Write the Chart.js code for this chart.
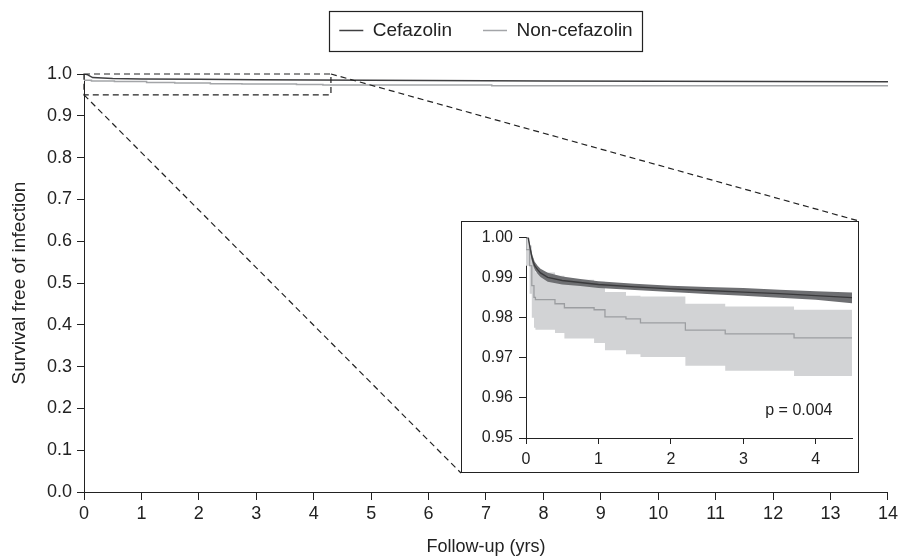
<!DOCTYPE html>
<html>
<head>
<meta charset="utf-8">
<script src="https://cdn.jsdelivr.net/npm/chart.js@4.4.1/dist/chart.umd.min.js"></script>
<style>
  html, body { margin: 0; padding: 0; background: #fff; }
  #wrap { position: relative; width: 901px; height: 559px; }
  #mainChart { position: absolute; left: 0; top: 0; }
  #insetBox { position: absolute; left: 461px; top: 221px; width: 396px; height: 250px;
              border: 1px solid #222; background: #fff; }
</style>
</head>
<body>
<div id="wrap">
  <canvas id="mainChart" width="901" height="559"></canvas>
  <div id="insetBox"><canvas id="insetChart" width="396" height="250"></canvas></div>
</div>
<script>
Chart.defaults.font.family = "'Liberation Sans', Arial, sans-serif";
Chart.defaults.color = '#222';
Chart.defaults.animation = false;

// ---- main chart data (0-14 yrs) ----
const mainCefTimes = [0, 0.05, 0.15, 0.5, 1, 2, 3, 4, 5, 6, 8, 10, 12, 14];
const mainCefSurv  = [1.0, 0.999, 0.9915, 0.9893, 0.9883, 0.9872, 0.9864, 0.9855, 0.985, 0.9845, 0.9835, 0.9825, 0.982, 0.9815];
const mainNcTimes  = [0, 0.13, 0.53, 1.09, 1.58, 2.2, 2.75, 3.7, 4.16, 7.1, 8.4, 14];
const mainNcSurv   = [1.0, 0.9851, 0.9835, 0.982, 0.9797, 0.9787, 0.9769, 0.976, 0.975, 0.9735, 0.972, 0.972];
const mainXTicks = [0, 1, 2, 3, 4, 5, 6, 7, 8, 9, 10, 11, 12, 13, 14];

// ---- inset data (0-4.5 yrs) ----
const cefTimes = [0, 0.03, 0.06, 0.09, 0.12, 0.16, 0.2, 0.3, 0.5, 0.75, 1, 1.5, 2, 2.5, 3, 3.5, 4, 4.5];
const cefSurv  = [1.0, 1.0, 0.997, 0.9945, 0.993, 0.992, 0.9912, 0.9901, 0.9893, 0.9888, 0.9883, 0.9877, 0.9872, 0.9868, 0.9864, 0.986, 0.9855, 0.985];
const cefUpper = [1.0, 1.0, 0.998, 0.9955, 0.994, 0.993, 0.9922, 0.9912, 0.9903, 0.9897, 0.9891, 0.9885, 0.988, 0.9877, 0.9874, 0.987, 0.9866, 0.9863];
const cefLower = [1.0, 1.0, 0.996, 0.9935, 0.992, 0.991, 0.9902, 0.989, 0.9883, 0.9879, 0.9874, 0.9869, 0.9864, 0.9859, 0.9855, 0.985, 0.9845, 0.9836];

const ncTimes = [0, 0.05, 0.08, 0.11, 0.13, 0.4, 0.53, 0.94, 1.09, 1.38, 1.58, 2.2, 2.75, 3.7, 4.16, 4.5];
const ncSurv  = [1.0, 0.997, 0.993, 0.988, 0.9851, 0.9845, 0.9835, 0.9825, 0.982, 0.9802, 0.9797, 0.9787, 0.9769, 0.976, 0.975, 0.975];
const ncUpper = [1.0, 1.0, 0.998, 0.995, 0.992, 0.9913, 0.9905, 0.9895, 0.989, 0.9864, 0.9855, 0.9853, 0.9835, 0.9828, 0.982, 0.982];
const ncLower = [1.0, 0.993, 0.986, 0.98, 0.9775, 0.977, 0.9762, 0.9748, 0.9737, 0.9719, 0.9709, 0.9702, 0.968, 0.9668, 0.9655, 0.9655];
const insetXTicks = [0, 1, 2, 3, 4];

const zoomBox = { x0: 0, x1: 4.3, y0: 0.95, y1: 1.0 };

function pts(xs, ys) { return xs.map((x, i) => ({ x: x, y: ys[i] })); }

const darkLine = '#3f3f41';
const lightLine = '#a3a5a8';
const legendFont = 19, legendPad = 31;

// legend centred over the plot area, with a frame round it
const legendFrame = {
  id: 'legendFrame',
  beforeInit(chart) {
    const fit = chart.legend.fit;
    chart.legend.fit = function () { fit.bind(chart.legend)(); this.height = 84; };
  },
  afterLayout(chart) {
    const lg = chart.legend, ca = chart.chartArea;
    lg.left = ca.left; lg.right = ca.right; lg.width = ca.right - ca.left;
    lg.adjustHitBoxes();
  },
  afterDraw(chart) {
    const lg = chart.legend, boxes = lg.legendHitBoxes;
    if (!boxes || !boxes.length) return;
    const minX = Math.min(...boxes.map(b => b.left));
    const maxX = Math.max(...boxes.map(b => b.left + b.width));
    const cy = lg.top + legendPad + legendFont / 2;
    const ctx = chart.ctx;
    ctx.save();
    ctx.strokeStyle = '#222';
    ctx.lineWidth = 1.2;
    ctx.strokeRect(Math.round(minX - 10) + 0.5, Math.round(cy - 20) + 0.5, Math.round(maxX - minX + 20), 40);
    ctx.restore();
  }
};

// dashed zoom rectangle and connectors to the inset
const zoomGuides = {
  id: 'zoomGuides',
  afterDatasetsDraw(chart) {
    const xs = chart.scales.x, ys = chart.scales.y, ctx = chart.ctx;
    const l = xs.getPixelForValue(zoomBox.x0), r = xs.getPixelForValue(zoomBox.x1);
    const t = ys.getPixelForValue(zoomBox.y1), b = ys.getPixelForValue(zoomBox.y0);
    const box = document.getElementById('insetBox');
    const il = box.offsetLeft, it = box.offsetTop;
    const ir = il + box.offsetWidth, ib = it + box.offsetHeight;
    ctx.save();
    ctx.strokeStyle = '#222';
    ctx.lineWidth = 1.2;
    ctx.setLineDash([6, 4]);
    ctx.strokeRect(l, t, r - l, b - t);
    ctx.beginPath();
    ctx.moveTo(r, t); ctx.lineTo(ir, it);
    ctx.moveTo(l, b); ctx.lineTo(il, ib);
    ctx.stroke();
    ctx.restore();
  }
};

new Chart(document.getElementById('mainChart'), {
  type: 'line',
  data: {
    datasets: [
      { label: 'Cefazolin', data: pts(mainCefTimes, mainCefSurv), borderColor: darkLine,
        borderWidth: 1.5, pointRadius: 0, tension: 0 },
      { label: 'Non-cefazolin', data: pts(mainNcTimes, mainNcSurv), borderColor: lightLine,
        borderWidth: 1.5, pointRadius: 0, stepped: 'after' }
    ]
  },
  options: {
    responsive: false,
    layout: { padding: { top: -10, left: 0, right: 11, bottom: 0 } },
    plugins: {
      legend: {
        position: 'top',
        labels: { usePointStyle: true, pointStyle: 'line', pointStyleWidth: 24,
                  padding: legendPad, font: { size: legendFont }, color: '#222' }
      },
      tooltip: { enabled: false }
    },
    scales: {
      x: {
        type: 'linear', min: 0, max: 14,
        afterBuildTicks: s => { s.ticks = mainXTicks.map(v => ({ value: v })); },
        afterFit: s => { s.height = 67; },
        ticks: { font: { size: 18 }, padding: 3, color: '#222' },
        grid: { drawOnChartArea: false, drawTicks: true, tickLength: 8, color: '#222' },
        border: { color: '#222', width: 1 },
        title: { display: true, text: 'Follow-up (yrs)', font: { size: 18 }, padding: { top: 0, bottom: 1 } }
      },
      y: {
        type: 'linear', min: 0, max: 1,
        afterFit: s => { s.width = 84; },
        ticks: { stepSize: 0.1, font: { size: 18 }, padding: 5, color: '#222',
                 callback: v => v.toFixed(1) },
        grid: { drawOnChartArea: false, drawTicks: true, tickLength: 7, color: '#222' },
        border: { color: '#222', width: 1 },
        title: { display: true, text: 'Survival free of infection', font: { size: 19 }, padding: { top: 8, bottom: 0 } }
      }
    }
  },
  plugins: [legendFrame, zoomGuides]
});

// p-value label inside the inset
const pLabel = {
  id: 'pLabel',
  afterDraw(chart) {
    const ctx = chart.ctx;
    ctx.save();
    ctx.font = "16px 'Liberation Sans', Arial, sans-serif";
    ctx.fillStyle = '#222';
    ctx.textAlign = 'right';
    ctx.textBaseline = 'middle';
    ctx.fillText('p = 0.004', chart.scales.x.getPixelForValue(4.23), chart.scales.y.getPixelForValue(0.9568));
    ctx.restore();
  }
};

new Chart(document.getElementById('insetChart'), {
  type: 'line',
  data: {
    datasets: [
      { label: 'ncLow', data: pts(ncTimes, ncLower), stepped: 'after', borderWidth: 0,
        borderColor: 'rgba(0,0,0,0)', pointRadius: 0, fill: false, order: 3 },
      { label: 'ncUp', data: pts(ncTimes, ncUpper), stepped: 'after', borderWidth: 0,
        borderColor: 'rgba(0,0,0,0)', backgroundColor: '#d2d3d5', pointRadius: 0, fill: 0, order: 3 },
      { label: 'cefLow', data: pts(cefTimes, cefLower), borderWidth: 0,
        borderColor: 'rgba(0,0,0,0)', pointRadius: 0, fill: false, order: 2 },
      { label: 'cefUp', data: pts(cefTimes, cefUpper), borderWidth: 0,
        borderColor: 'rgba(0,0,0,0)', backgroundColor: '#6e6f72', pointRadius: 0, fill: 2, order: 2 },
      { label: 'Non-cefazolin', data: pts(ncTimes, ncSurv), stepped: 'after', borderWidth: 1.3,
        borderColor: '#9c9ea1', pointRadius: 0, order: 1 },
      { label: 'Cefazolin', data: pts(cefTimes, cefSurv), borderWidth: 1.3,
        borderColor: '#3a3a3c', pointRadius: 0, tension: 0, order: 0 }
    ]
  },
  options: {
    responsive: false,
    layout: { padding: { top: 15, left: 0, right: 6, bottom: 0 } },
    plugins: { legend: { display: false }, tooltip: { enabled: false } },
    scales: {
      x: {
        type: 'linear', min: 0, max: 4.5,
        afterBuildTicks: s => { s.ticks = insetXTicks.map(v => ({ value: v })); },
        afterFit: s => { s.height = 34; },
        ticks: { font: { size: 16 }, padding: 6, color: '#222' },
        grid: { drawOnChartArea: false, drawTicks: true, tickLength: 6, color: '#222' },
        border: { color: '#222', width: 1 }
      },
      y: {
        type: 'linear', min: 0.95, max: 1.0,
        afterFit: s => { s.width = 64; },
        ticks: { stepSize: 0.01, font: { size: 16 }, padding: 6, color: '#222',
                 callback: v => v.toFixed(2) },
        grid: { drawOnChartArea: false, drawTicks: true, tickLength: 7, color: '#222' },
        border: { color: '#222', width: 1 }
      }
    }
  },
  plugins: [pLabel]
});
</script>
</body>
</html>
